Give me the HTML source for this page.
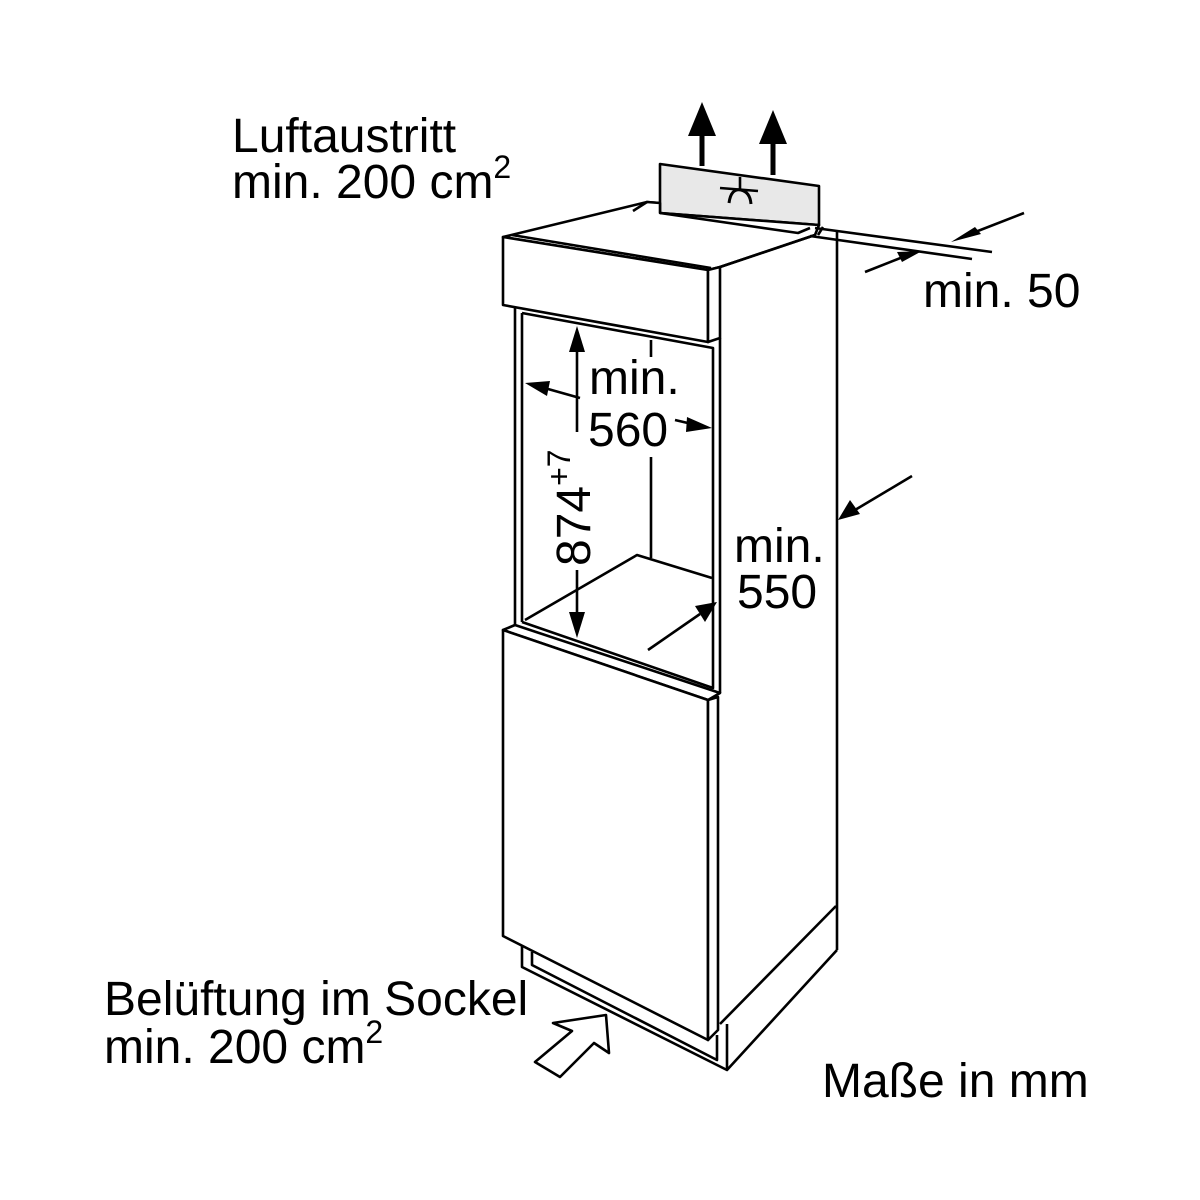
<!DOCTYPE html>
<html><head><meta charset="utf-8"><style>
html,body{margin:0;padding:0;background:#fff;}
svg{display:block;}
text{font-family:"Liberation Sans",Arial,sans-serif;fill:#000;}
</style></head><body>
<svg width="1200" height="1200" viewBox="0 0 1200 1200" xmlns="http://www.w3.org/2000/svg">
<g fill="none" stroke="#000" stroke-width="2.6" stroke-linejoin="round">
<!-- gray vent panel -->
<polygon points="660,164 819,186 819,225 660,213" fill="#e8e8e8"/>
<!-- flange -->
<polyline points="660,203 647,202 633,211 798,233 810,228"/>
<!-- top box -->
<polygon points="503,237 647,202 660,203 660,213 819,225 815,235 720,267 708,270" fill="#fff"/>
<polyline points="660,213 798,233 810,228"/>
<polyline points="633,211 647,202"/>
<polygon points="503,237 708,270 708,342 503,305" fill="#fff"/>
<polygon points="708,270 720,267 720,338 708,342" fill="#fff"/>
<line x1="512" y1="235" x2="711" y2="268"/>
<line x1="720" y1="267" x2="815" y2="235"/>
<!-- cabinet top edges to the right -->
<line x1="815" y1="228" x2="992" y2="252"/>
<line x1="810" y1="236" x2="972" y2="259"/>
<line x1="823" y1="227" x2="818" y2="235"/>
<!-- cabinet right side -->
<line x1="837" y1="230" x2="837" y2="950"/>
<!-- opening frame -->
<line x1="515" y1="307" x2="515" y2="628"/>
<line x1="522" y1="313" x2="522" y2="622"/>
<polyline points="522,313 713,348 713,688 522,622"/>
<line x1="720" y1="338" x2="720" y2="693"/>
<!-- back wall line and floor -->
<line x1="651" y1="340" x2="651" y2="357"/>
<line x1="651" y1="457" x2="651" y2="558"/>
<polyline points="525,620 637,555 712,578"/>
<!-- door -->
<polygon points="503,630 515,625 720,693 708,700" fill="#fff"/>
<polygon points="503,630 708,700 708,1040 503,936" fill="#fff"/>
<polygon points="708,700 718,697 718,1030 708,1040" fill="#fff"/>
<!-- plinth -->
<polyline points="522,946 522,967 727,1070 837,950"/>
<polyline points="532,952 532,965 717,1060 717,1035"/>
<line x1="836" y1="906" x2="720" y2="1024"/>
<line x1="727" y1="1024" x2="727" y2="1070"/>
<!-- bottom hollow arrow -->
<polygon points="606,1015 553,1023 572,1031 535,1062 560,1077 594,1043 609,1053" fill="#fff"/>
<!-- fan symbol -->
<line x1="740" y1="177" x2="740" y2="190"/>
<line x1="720" y1="188" x2="758" y2="191"/>
<path d="M729,203 Q731,188 741,190 Q750,192 751,204" stroke-width="3"/>
</g>
<g stroke="#000" stroke-width="2.6" fill="#000">
<line x1="702" y1="134" x2="702" y2="166" stroke-width="5"/>
<polygon points="702,102 688,136 716,136" stroke="none"/>
<line x1="773" y1="142" x2="773" y2="175" stroke-width="5"/>
<polygon points="773,110 759,144 787,144" stroke="none"/>
<line x1="1024" y1="213" x2="965" y2="236"/>
<polygon points="951,242 975,227 981,234" stroke="none"/>
<line x1="865" y1="272" x2="908" y2="255"/>
<polygon points="922,251 897,252 902,262" stroke="none"/>
<line x1="577" y1="350" x2="577" y2="432"/>
<line x1="577" y1="570" x2="577" y2="612"/>
<polygon points="577,326 569,352 585,352" stroke="none"/>
<polygon points="577,638 569,612 585,612" stroke="none"/>
<line x1="548" y1="389" x2="580" y2="398"/>
<polygon points="525,383 550,381 547,396" stroke="none"/>
<line x1="675" y1="420" x2="692" y2="424"/>
<polygon points="712,428 687,417 686,432" stroke="none"/>
<line x1="912" y1="476" x2="855" y2="510"/>
<polygon points="838,520 850,500 860,514" stroke="none"/>
<line x1="648" y1="650" x2="700" y2="614"/>
<polygon points="717,602 695,606 705,622" stroke="none"/>
</g>
<g font-size="48">
<text x="232" y="152">Luftaustritt</text>
<text x="232" y="198">min. 200 cm<tspan font-size="32" dy="-20">2</tspan></text>
<text x="923" y="307">min. 50</text>
<text x="589" y="394">min.</text>
<text x="588" y="446">560</text>
<text transform="translate(590,566) rotate(-90)">874<tspan font-size="32" dy="-20">+7</tspan></text>
<text x="734" y="562">min.</text>
<text x="737" y="608">550</text>
<text x="104" y="1015">Belüftung im Sockel</text>
<text x="104" y="1063">min. 200 cm<tspan font-size="32" dy="-20">2</tspan></text>
<text x="822" y="1097">Maße in mm</text>
</g>
</svg>
</body></html>
